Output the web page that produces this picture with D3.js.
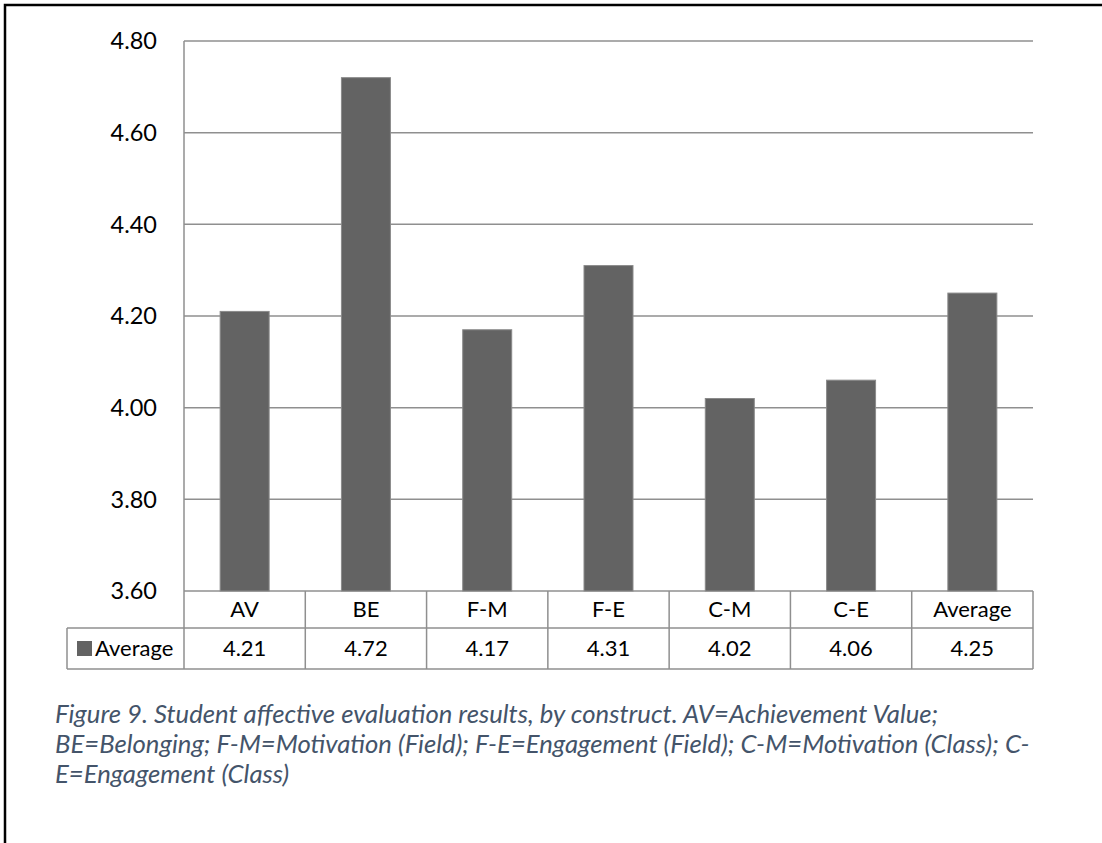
<!DOCTYPE html>
<html>
<head>
    <title>Student affective evaluation results</title>
    <style>
        body {
            margin: 0;
            background: #fff;
        }
        svg text {
            font-family: Lato, "Open Sans", sans-serif;
        }
    </style>
</head>
<body>
    <svg id="chart" width="1102" height="843"></svg>

    <script src="https://d3js.org/d3.v7.min.js"></script>
    <script>
        // data
        const categories = ["AV", "BE", "F-M", "F-E", "C-M", "C-E", "Average"];
        const averages = [4.21, 4.72, 4.17, 4.31, 4.02, 4.06, 4.25];
        const seriesName = "Average";
        const yTicks = [3.60, 3.80, 4.00, 4.20, 4.40, 4.60, 4.80];
        const captionLines = [
            "Figure 9. Student affective evaluation results, by construct. AV=Achievement Value;",
            "BE=Belonging; F-M=Motivation (Field); F-E=Engagement (Field); C-M=Motivation (Class); C-",
            "E=Engagement (Class)"
        ];

        const svg = d3.select('#chart');

        // page frame
        svg.append('rect')
            .attr('x', 5).attr('y', 5)
            .attr('width', 1300).attr('height', 1000)
            .attr('fill', 'none')
            .attr('stroke', '#000')
            .attr('stroke-width', 2.5);

        const plot = { left: 184, right: 1033, top: 41, bottom: 591 };
        const row1 = 628, row2 = 669, legendLeft = 67;
        const gridColor = '#8f8f8f';
        const barColor = '#636363';

        const x = d3.scaleBand()
            .domain(categories)
            .range([plot.left, plot.right])
            .padding(0);

        const y = d3.scaleLinear()
            .domain([3.6, 4.8])
            .range([plot.bottom, plot.top]);

        // gridlines
        svg.append('g')
            .selectAll('line')
            .data(yTicks)
            .enter().append('line')
            .attr('x1', plot.left).attr('x2', plot.right)
            .attr('y1', d => y(d)).attr('y2', d => y(d))
            .attr('stroke', gridColor)
            .attr('stroke-width', 1.5);

        // y tick labels
        svg.append('g')
            .selectAll('text')
            .data(yTicks)
            .enter().append('text')
            .attr('x', 157)
            .attr('y', d => y(d))
            .attr('dy', '0.36em')
            .attr('text-anchor', 'end')
            .attr('font-size', 23.5)
            .attr('fill', '#000')
            .text(d => d3.format('.2f')(d));

        // bars
        const barW = x.bandwidth() * 0.404;
        svg.append('g')
            .selectAll('rect')
            .data(averages)
            .enter().append('rect')
            .attr('x', (d, i) => x(categories[i]) + (x.bandwidth() - barW) / 2)
            .attr('y', d => y(d))
            .attr('width', barW)
            .attr('height', d => y(3.6) - y(d))
            .attr('fill', barColor)
            .attr('stroke', '#8a8a8a')
            .attr('stroke-width', 1);

        // left axis line
        svg.append('line')
            .attr('x1', plot.left).attr('x2', plot.left)
            .attr('y1', plot.top).attr('y2', row2)
            .attr('stroke', gridColor)
            .attr('stroke-width', 1.5);

        // data table
        const table = svg.append('g');
        table.append('line')
            .attr('x1', legendLeft).attr('x2', plot.right)
            .attr('y1', row1).attr('y2', row1)
            .attr('stroke', gridColor).attr('stroke-width', 1.5);
        table.append('line')
            .attr('x1', legendLeft).attr('x2', plot.right)
            .attr('y1', row2).attr('y2', row2)
            .attr('stroke', gridColor).attr('stroke-width', 1.5);
        table.append('line')
            .attr('x1', legendLeft).attr('x2', legendLeft)
            .attr('y1', row1).attr('y2', row2)
            .attr('stroke', gridColor).attr('stroke-width', 1.5);
        table.selectAll('.col')
            .data(categories)
            .enter().append('line')
            .attr('class', 'col')
            .attr('x1', d => x(d) + x.bandwidth()).attr('x2', d => x(d) + x.bandwidth())
            .attr('y1', plot.bottom).attr('y2', row2)
            .attr('stroke', gridColor).attr('stroke-width', 1.5);

        table.selectAll('.cat')
            .data(categories)
            .enter().append('text')
            .attr('class', 'cat')
            .attr('x', d => x(d) + x.bandwidth() / 2)
            .attr('y', (plot.bottom + row1) / 2)
            .attr('dy', '0.36em')
            .attr('text-anchor', 'middle')
            .attr('font-size', 22)
            .text(d => d);

        table.selectAll('.val')
            .data(averages)
            .enter().append('text')
            .attr('class', 'val')
            .attr('x', (d, i) => x(categories[i]) + x.bandwidth() / 2)
            .attr('y', (row1 + row2) / 2)
            .attr('dy', '0.36em')
            .attr('text-anchor', 'middle')
            .attr('font-size', 22)
            .text(d => d3.format('.2f')(d));

        // legend key
        table.append('rect')
            .attr('x', 77).attr('y', 641)
            .attr('width', 15).attr('height', 15)
            .attr('fill', barColor);
        table.append('text')
            .attr('x', 95)
            .attr('y', (row1 + row2) / 2)
            .attr('dy', '0.36em')
            .attr('font-size', 22)
            .text(seriesName);

        // caption
        const caption = svg.append('g')
            .attr('fill', '#44546a')
            .attr('font-style', 'italic');
        const lines = caption.selectAll('text')
            .data(captionLines)
            .enter().append('text')
            .attr('x', 55)
            .attr('y', (d, i) => 723 + i * 30)
            .attr('font-size', 21)
            .text(d => d);
        // fit the caption font so the second line spans like the original
        const w = lines.nodes()[1].getComputedTextLength();
        lines.attr('font-size', 21 * 975 / w);
    </script>
</body>
</html>
